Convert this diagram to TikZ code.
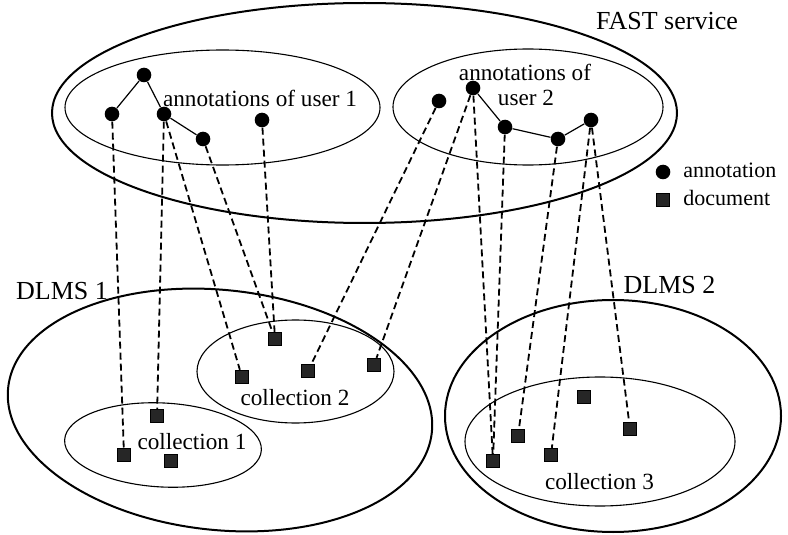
\documentclass[tikz,border=0pt]{standalone}
\usepackage{fontspec}
\setmainfont{Liberation Serif}
\usetikzlibrary{shapes.geometric}
\begin{document}
\begin{tikzpicture}[x=0.5pt,y=-0.5pt,
  ann/.style={circle,fill=black,inner sep=0pt,minimum size=7.3pt},
  doc/.style={rectangle,fill=black!85,draw=black,line width=0.6pt,inner sep=0pt,minimum size=6.6pt},
  link/.style={line width=0.9pt,dash pattern=on 3.5pt off 2pt},
  tree/.style={line width=0.6pt},
  outerell/.style={ellipse,draw,line width=1pt,inner sep=0pt},
  innerell/.style={ellipse,draw,line width=0.55pt,inner sep=0pt},
  lbl/.style={font=\fontsize{11.6}{13}\selectfont,inner sep=0pt},
  biglbl/.style={font=\fontsize{13}{15}\selectfont,inner sep=0pt},
  leg/.style={font=\fontsize{11}{13}\selectfont,inner sep=0pt,anchor=west}]
\fill[white] (0,0) rectangle (788,535);
\useasboundingbox (0,0) rectangle (788,535);

% containers
\node[outerell,minimum width=312.5pt,minimum height=110pt] (fast) at (364.5,113) {};
\node[innerell,minimum width=157.5pt,minimum height=57.5pt] (user1) at (222.5,107.5) {};
\node[innerell,minimum width=135pt,minimum height=58pt] (user2) at (528,107) {};
\node[outerell,minimum width=213pt,minimum height=120pt,rotate=-6] (dlms1) at (220,410) {};
\node[innerell,minimum width=98.5pt,minimum height=42pt,rotate=-3] (coll1) at (163,445) {};
\node[innerell,minimum width=98.5pt,minimum height=51.5pt] (coll2) at (295.5,371.5) {};
\node[outerell,minimum width=168pt,minimum height=116pt] (dlms2) at (613,416) {};
\node[innerell,minimum width=135pt,minimum height=64.5pt] (coll3) at (600,441.5) {};

% labels
\node[biglbl] (tfast) at (667,21) {FAST service};
\node[lbl] (tu1) at (260,98.5) {annotations of user 1};
\node[lbl] (tu2a) at (525,72.5) {annotations of};
\node[lbl] (tu2b) at (526,97.5) {user 2};
\node[biglbl] (tdl1) at (62,291) {DLMS 1};
\node[biglbl] (tdl2) at (669.5,285) {DLMS 2};
\node[lbl] (tc1) at (192,442) {collection 1};
\node[lbl] (tc2) at (295,398) {collection 2};
\node[lbl] (tc3) at (599.5,482) {collection 3};

% annotations
\node[ann] (u1a) at (144,75) {};
\node[ann] (u1b) at (112,114) {};
\node[ann] (u1c) at (164,114) {};
\node[ann] (u1d) at (203,139) {};
\node[ann] (u1e) at (262,120) {};
\node[ann] (u2a) at (439,101) {};
\node[ann] (u2b) at (473,88) {};
\node[ann] (u2c) at (505,127) {};
\node[ann] (u2d) at (558,139) {};
\node[ann] (u2e) at (591,120) {};

% documents
\node[doc] (d1) at (124,455) {};
\node[doc] (d2) at (157,416) {};
\node[doc] (d3) at (171,461) {};
\node[doc] (d4) at (275,339) {};
\node[doc] (d5) at (242,377) {};
\node[doc] (d6) at (308,371) {};
\node[doc] (d7) at (374,365) {};
\node[doc] (d8) at (493,461) {};
\node[doc] (d9) at (518,436) {};
\node[doc] (d10) at (584,397) {};
\node[doc] (d11) at (551,455) {};
\node[doc] (d12) at (630,429) {};

% trees
\draw[tree] (u1a) -- (u1b);
\draw[tree] (u1a) -- (u1c);
\draw[tree] (u1c) -- (u1d);
\draw[tree] (u2b) -- (u2c);
\draw[tree] (u2c) -- (u2d);
\draw[tree] (u2d) -- (u2e);

% links
\draw[link] (u1b) -- (d1);
\draw[link] (u1c) -- (d2);
\draw[link] (u1c) -- (d5);
\draw[link] (u1d) -- (d4);
\draw[link] (u1e) -- (d4);
\draw[link] (u2a) -- (d6);
\draw[link] (u2b) -- (d7);
\draw[link] (u2b) -- (d8);
\draw[link] (u2c) -- (d8);
\draw[link] (u2d) -- (d9);
\draw[link] (u2e) -- (d11);
\draw[link] (u2e) -- (d12);

% legend
\node[ann] (lgann) at (663,172) {};
\node[leg] (lgannt) at (683,170.5) {annotation};
\node[doc] (lgdoc) at (663,200) {};
\node[leg] (lgdoct) at (683,198) {document};
\end{tikzpicture}
\end{document}
